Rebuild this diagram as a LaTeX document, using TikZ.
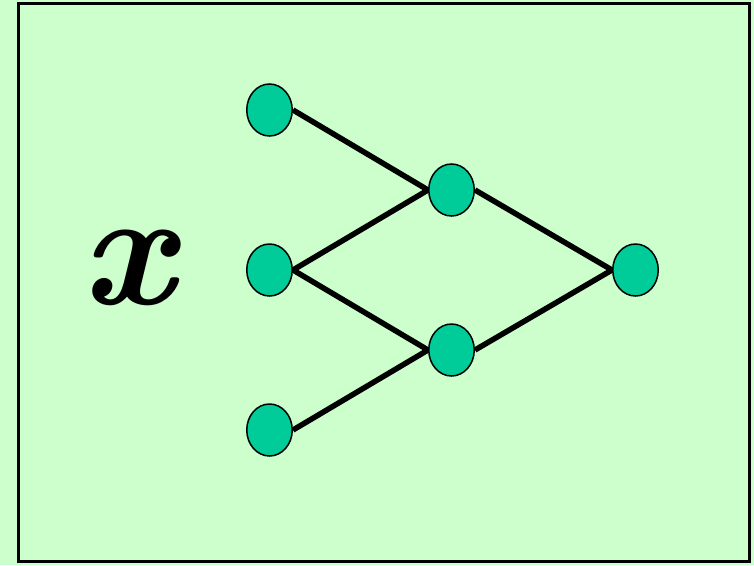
\documentclass[tikz,border=0pt]{standalone}
\usetikzlibrary{shapes.geometric}
\definecolor{bg}{HTML}{CCFFCC}
\definecolor{nodefill}{HTML}{00CC99}
\begin{document}
\begin{tikzpicture}[x=1pt,y=-1pt,
  neuron/.style={ellipse,draw=black,line width=1.5pt,fill=nodefill,minimum width=45.5pt,minimum height=52pt,inner sep=0pt},
  link/.style={line width=5.5pt}]
\fill[bg] (0,0) rectangle (754,565);
\useasboundingbox (0,0) rectangle (754,565);
\draw[line width=3pt] (18,3.5) rectangle (749,561.5);
\node[font=\fontsize{165}{165}\selectfont\bfseries\itshape,inner sep=0pt,anchor=base] (xl) at (128,304) {x};
\node[neuron] (a1) at (269.5,110) {};
\node[neuron] (a2) at (269.5,270) {};
\node[neuron] (a3) at (269.5,430) {};
\node[neuron] (b1) at (451.5,190) {};
\node[neuron] (b2) at (451.5,350) {};
\node[neuron] (c1) at (635.5,270) {};
\draw[link] (a1.east) -- (b1.west);
\draw[link] (a2.east) -- (b1.west);
\draw[link] (a2.east) -- (b2.west);
\draw[link] (a3.east) -- (b2.west);
\draw[link] (b1.east) -- (c1.west);
\draw[link] (b2.east) -- (c1.west);
\end{tikzpicture}
\end{document}
